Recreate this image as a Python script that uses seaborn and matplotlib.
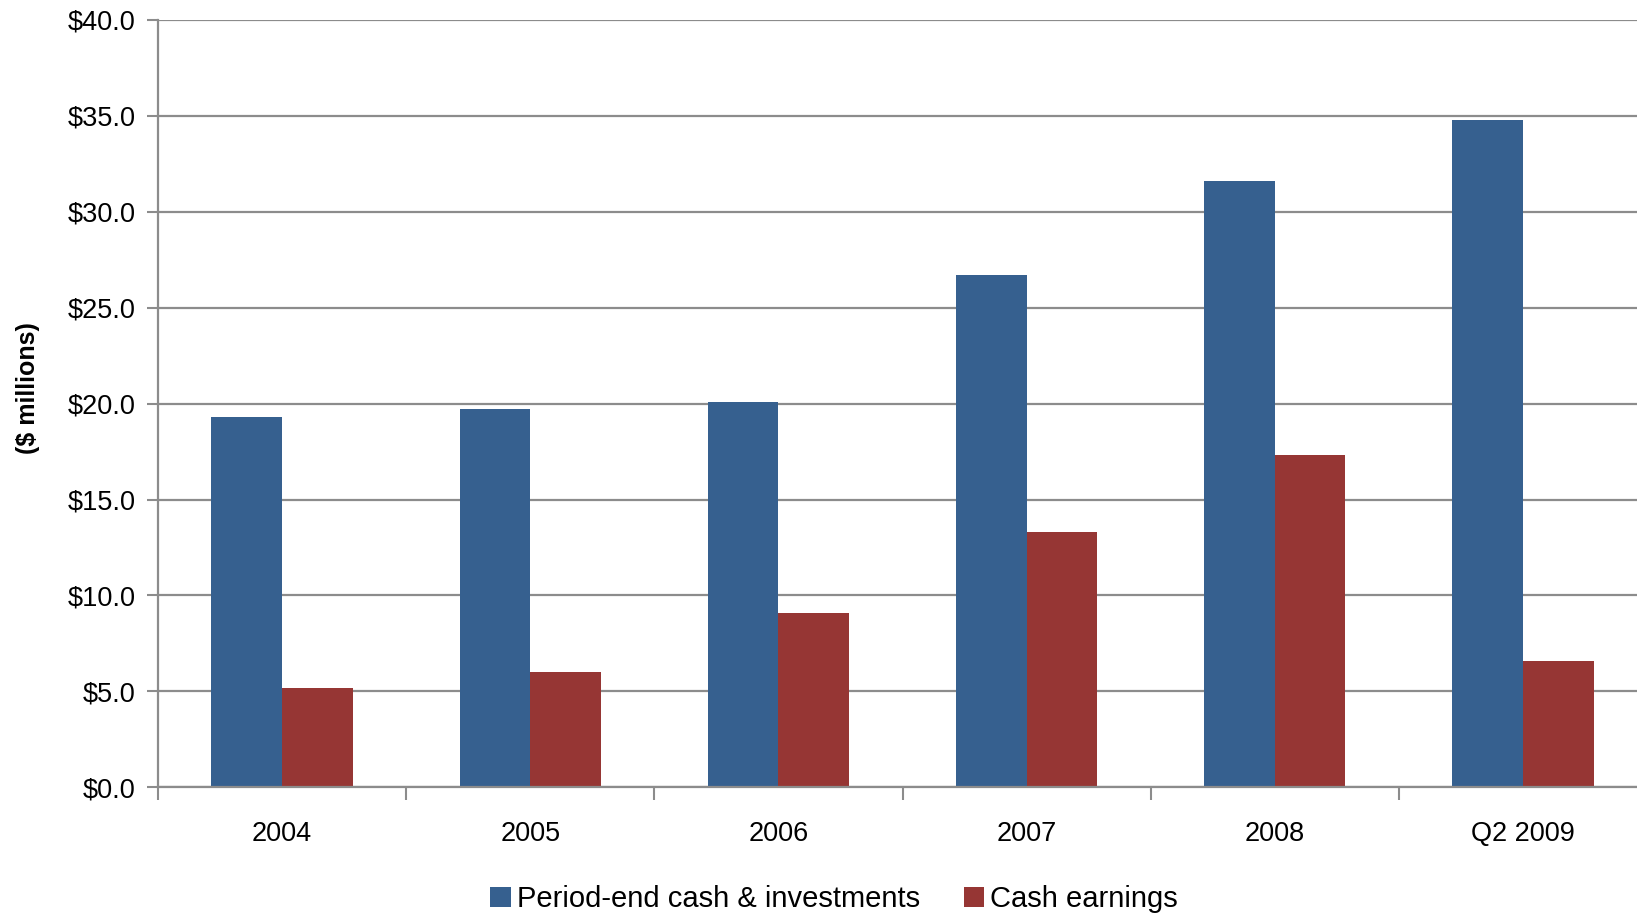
import matplotlib
matplotlib.use("Agg")
import matplotlib.pyplot as plt
import pandas as pd
import seaborn as sns

# Chart data
periods = ["2004", "2005", "2006", "2007", "2008", "Q2 2009"]
cash_investments = [19.3, 19.7, 20.1, 26.7, 31.6, 34.8]
cash_earnings = [5.2, 6.0, 9.1, 13.3, 17.3, 6.6]
series_names = ["Period-end cash & investments", "Cash earnings"]
y_ticks = [0, 5, 10, 15, 20, 25, 30, 35, 40]

df = pd.DataFrame({
    "period": periods * 2,
    "value": cash_investments + cash_earnings,
    "series": [series_names[0]] * len(periods) + [series_names[1]] * len(periods),
})

sns.set_theme(style="white")
plt.rcParams["font.family"] = ["Liberation Sans", "DejaVu Sans"]
plt.rcParams["text.color"] = "black"
plt.rcParams["xtick.color"] = "black"
plt.rcParams["ytick.color"] = "black"
plt.rcParams["axes.labelcolor"] = "black"

fig = plt.figure(figsize=(16.37, 9.13), dpi=100)
ax = fig.add_axes([158 / 1637, 1 - 787.3 / 913, (1647 - 158) / 1637, (787.3 - 20) / 913])

sns.barplot(data=df, x="period", y="value", hue="series", order=periods,
            hue_order=series_names, palette=["#36608F", "#963634"],
            width=0.57, saturation=1, linewidth=0, ax=ax, legend=True)

grid_col = "#8C8C8C"
ax.set_ylim(0, 40)
ax.set_xlim(-0.5, len(periods) - 0.5)
ax.set_yticks(y_ticks)
ax.set_yticklabels([f"${v:.1f}" for v in y_ticks], fontsize=19.5)
ax.yaxis.grid(True, color=grid_col, linewidth=1.6)
ax.set_axisbelow(True)

ax.tick_params(axis="x", which="major", length=0, labelsize=19.5, pad=24)
ax.set_xticks([i - 0.5 for i in range(len(periods) + 1)], minor=True)
ax.tick_params(axis="x", which="minor", bottom=True, length=9, width=1.5,
               color=grid_col, direction="out")
ax.tick_params(axis="y", length=8, width=1.5, color=grid_col, direction="out",
               pad=8, left=True)

for side in ["top", "right"]:
    ax.spines[side].set_visible(False)
for side in ["left", "bottom"]:
    ax.spines[side].set_color(grid_col)
    ax.spines[side].set_linewidth(1.6)

ax.set_xlabel("")
ax.set_ylabel("($ millions)", fontsize=18, fontweight="bold")
ax.yaxis.set_label_coords(-0.079, 0.52)

handles, labels = ax.get_legend_handles_labels()
ax.legend_.remove()
fig.legend(handles, labels, loc="center", bbox_to_anchor=(834 / 1637, 1 - 899 / 913),
           ncol=2, frameon=False, fontsize=21, handlelength=0.7, handleheight=0.7,
           handletextpad=0.2, columnspacing=1.5)

fig.savefig("out.png", dpi=100)
